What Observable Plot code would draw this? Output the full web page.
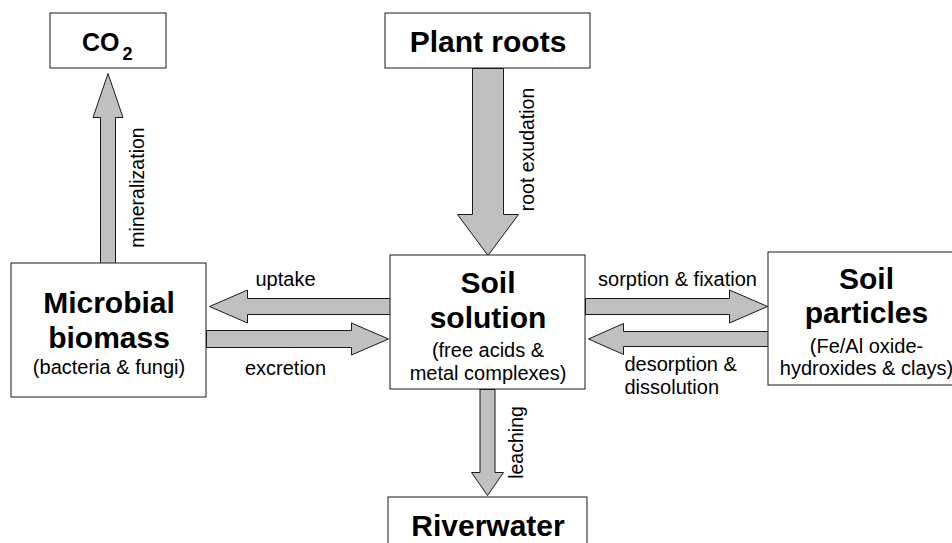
<!DOCTYPE html>
<html><head><meta charset="utf-8">
<script src="https://cdn.jsdelivr.net/npm/d3@7"></script>
<script src="https://cdn.jsdelivr.net/npm/@observablehq/plot@0.6"></script>
<style>body{margin:0;background:#fff} #chart svg{display:block}</style>
</head><body><div id="chart"></div>
<script>
// Boxes (compartments)
const boxNames = ["CO2", "Plant roots", "Microbial biomass", "Soil solution", "Soil particles", "Riverwater"];
const boxX1 = [50, 385, 11, 390, 768, 388];
const boxY1 = [13, 13, 263, 255, 252, 497];
const boxX2 = [166, 590, 206, 585, 966, 587];
const boxY2 = [68, 68, 397, 389, 385, 560];

// Bold box titles
const titleLines = ["Plant roots", "Microbial", "biomass", "Soil", "solution", "Soil", "particles", "Riverwater"];
const titleX = [487.5, 108.5, 108.5, 487.5, 487.5, 866, 866, 487.5];
const titleY = [51, 312, 347, 292, 327, 288, 322, 535];

// CO2 label (main + subscript)
const co2Main = ["CO"];
const co2MainX = [119];
const co2MainY = [50];
const co2Sub = ["2"];
const co2SubX = [122];
const co2SubY = [59];

// Regular notes inside boxes
const noteLines = ["(bacteria & fungi)", "(free acids &", "metal complexes)", "(Fe/Al oxide-", "hydroxides & clays)"];
const noteX = [108.5, 487.5, 487.5, 866, 866];
const noteY = [373, 356, 379, 352, 374];

// Flow labels (horizontal)
const flowCenterLabels = ["uptake", "excretion", "sorption & fixation"];
const flowCenterX = [285, 285, 677];
const flowCenterY = [285, 374, 285];
const flowStartLabels = ["desorption &", "dissolution"];
const flowStartX = [624, 624];
const flowStartY = [370, 393];

// Flow labels (vertical)
const flowVertLabels = ["mineralization", "root exudation", "leaching"];
const flowVertX = [137, 527, 516];
const flowVertY = [187, 149, 442];

// Arrows: from -> to
const arrowNames = ["mineralization", "root exudation", "uptake", "excretion", "sorption & fixation", "desorption & dissolution", "leaching"];
const arrowFromX = [107.5, 487.5, 390, 206, 585, 768, 487];
const arrowFromY = [263, 68, 306, 338.5, 306, 338.5, 389];
const arrowToX = [107.5, 487.5, 209, 388, 767, 588, 487];
const arrowToY = [73, 255, 306, 338.5, 306, 338.5, 495];
const arrowShaft = [7.5, 15.5, 8, 8.5, 8, 7.5, 7.5];
const arrowHead = [15, 30.5, 16.5, 16, 16.5, 15.5, 16];
const arrowHeadLen = [44, 41, 38, 37, 38, 35, 23];

const boxes = boxNames.map((name, i) => ({name, x1: boxX1[i], y1: boxY1[i], x2: boxX2[i], y2: boxY2[i]}));

const arrowPts = [];
arrowNames.forEach((name, i) => {
  const fx = arrowFromX[i], fy = arrowFromY[i], tx = arrowToX[i], ty = arrowToY[i];
  const len = Math.hypot(tx - fx, ty - fy);
  const ux = (tx - fx) / len, uy = (ty - fy) / len;
  const nx = -uy, ny = ux;
  const s = arrowShaft[i], h = arrowHead[i], L = arrowHeadLen[i];
  const bx = tx - ux * L, by = ty - uy * L;
  const pts = [
    [fx + nx * s, fy + ny * s],
    [bx + nx * s, by + ny * s],
    [bx + nx * h, by + ny * h],
    [tx, ty],
    [bx - nx * h, by - ny * h],
    [bx - nx * s, by - ny * s],
    [fx - nx * s, fy - ny * s],
    [fx + nx * s, fy + ny * s]
  ];
  pts.forEach(([x, y]) => arrowPts.push({name, x, y}));
});

const mk = (labels, xs, ys) => labels.map((t, i) => ({t, x: xs[i], y: ys[i]}));
const font = "Arial, 'Liberation Sans', Helvetica, sans-serif";

const chart = Plot.plot({
  width: 952,
  height: 543,
  margin: 0,
  x: {domain: [0, 952], range: [0, 952], axis: null},
  y: {domain: [0, 543], range: [0, 543], axis: null},
  style: {fontFamily: font, background: "#fff"},
  marks: [
    Plot.line(arrowPts, {x: "x", y: "y", z: "name", fill: "#c0c0c0", stroke: "#1a1a1a", strokeWidth: 1, curve: "linear", strokeLinejoin: "miter"}),
    Plot.rect(boxes, {x1: "x1", y1: "y1", x2: "x2", y2: "y2", fill: "#fff", stroke: "#1a1a1a", strokeWidth: 1}),
    Plot.text(mk(titleLines, titleX, titleY), {x: "x", y: "y", text: "t", fontSize: 30, fontWeight: "bold", fill: "#000", lineAnchor: "bottom", textAnchor: "middle"}),
    Plot.text(mk(co2Main, co2MainX, co2MainY), {x: "x", y: "y", text: "t", fontSize: 25, fontWeight: "bold", fill: "#000", lineAnchor: "bottom", textAnchor: "end"}),
    Plot.text(mk(co2Sub, co2SubX, co2SubY), {x: "x", y: "y", text: "t", fontSize: 18, fontWeight: "bold", fill: "#000", lineAnchor: "bottom", textAnchor: "start"}),
    Plot.text(mk(noteLines, noteX, noteY), {x: "x", y: "y", text: "t", fontSize: 20, fill: "#000", lineAnchor: "bottom", textAnchor: "middle"}),
    Plot.text(mk(flowCenterLabels, flowCenterX, flowCenterY), {x: "x", y: "y", text: "t", fontSize: 20, fill: "#000", lineAnchor: "bottom", textAnchor: "middle"}),
    Plot.text(mk(flowStartLabels, flowStartX, flowStartY), {x: "x", y: "y", text: "t", fontSize: 20, fill: "#000", lineAnchor: "bottom", textAnchor: "start"}),
    Plot.text(mk(flowVertLabels, flowVertX, flowVertY), {x: "x", y: "y", text: "t", fontSize: 19.5, fill: "#000", rotate: -90, textAnchor: "middle", lineAnchor: "middle"})
  ]
});
document.getElementById("chart").append(chart);
</script>
</body></html>
